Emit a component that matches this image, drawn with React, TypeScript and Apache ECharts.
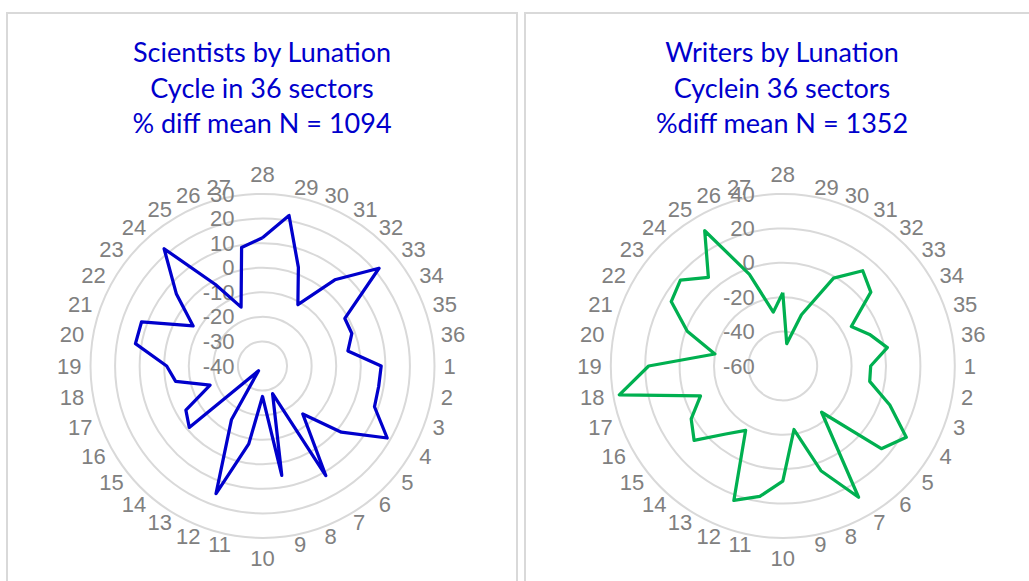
import React, { useEffect, useRef } from 'react';
import * as echarts from 'echarts';

// Sector labels (lunation cycle sectors 1..36)
const sectorLabels: string[] = [
  '1', '2', '3', '4', '5', '6', '7', '8', '9', '10', '11', '12',
  '13', '14', '15', '16', '17', '18', '19', '20', '21', '22', '23', '24',
  '25', '26', '27', '28', '29', '30', '31', '32', '33', '34', '35', '36',
];

// % diff from mean, by sector 1..36
const scientists: number[] = [
  8.3, 8, 8.5, 18.6, 1.9, -14.5, 11.5, -28, 5.2, -27.6, -7.8, 15.3,
  -14.7, -37.5, -1.1, -4, -17.3, -4.1, -1, 12.5, 12.4, -7.4, 5.8, 22.3,
  -1.7, -14.5, 9, 12.2, 22.2, 2.7, -11.2, 5.8, 21.9, -1.3, -1.3, -4.7,
];

const writers: number[] = [
  -8.9, -8.7, 6.2, 22.9, 14.8, -24.9, 28.1, 4.8, -22.5, 6.9, 17, 23.2,
  -16.8, -8.4, 7.3, 1.5, -9.1, 36.5, 18, -19.9, -0.9, 14.9, 17.7, 7.3,
  30.8, -3.3, -28.2, -17.4, -46.8, -28.3, -1, 12.3, 6.8, -14, -6.3, 1.7,
];

// Value axis ranges
const sciAxis = { min: -40, max: 30, splits: 7 };
const wriAxis = { min: -60, max: 40, splits: 5 };

const titles: string[] = [
  'Scientists by Lunation\nCycle in 36 sectors\n% diff mean N = 1094',
  'Writers by Lunation\nCyclein 36 sectors\n%diff mean N = 1352',
];

// Sector 28 sits at the top; sectors run clockwise. ECharts radar runs
// counter-clockwise, so build the radar order from the top going CCW.
const TOP_INDEX = 27; // index of sector 28
const radarOrder: number[] = sectorLabels.map((_, j) => (((TOP_INDEX - j) % 36) + 36) % 36);

const LABEL_COLOR = '#808080';
const LABEL_FONT = 'Liberation Sans, Arial, sans-serif';

function buildIndicators(min: number, max: number) {
  return radarOrder.map((k, j) => {
    const ind: any = { name: sectorLabels[k], min, max };
    if (j === 0) {
      ind.axisLabel = { show: true };
    }
    return ind;
  });
}

function buildRadar(center: [number, number], ax: { min: number; max: number; splits: number }) {
  return {
    center,
    radius: 172,
    startAngle: 90,
    shape: 'circle',
    splitNumber: ax.splits,
    indicator: buildIndicators(ax.min, ax.max),
    nameGap: 9,
    axisName: { color: LABEL_COLOR, fontSize: 22, fontFamily: LABEL_FONT },
    axisLine: { show: false },
    axisTick: { show: false },
    axisLabel: {
      show: false,
      color: LABEL_COLOR,
      fontSize: 22,
      fontFamily: LABEL_FONT,
      margin: 28,
      showMinLabel: true,
      showMaxLabel: true,
    },
    splitLine: { lineStyle: { color: '#d9d9d9', width: 2 } },
    splitArea: { show: false },
  };
}

function reorder(values: number[]) {
  return radarOrder.map((k) => values[k]);
}

export default function App() {
  const ref = useRef<HTMLDivElement>(null);

  useEffect(() => {
    if (!ref.current) return;
    const chart = echarts.init(ref.current, undefined, { renderer: 'svg' });
    const titleStyle = {
      color: '#0000CC',
      fontSize: 27,
      lineHeight: 35.5,
      fontFamily: 'Lato, sans-serif',
      fontWeight: 'normal' as const,
    };
    const option: any = {
      animation: false,
      backgroundColor: '#ffffff',
      title: [
        { text: titles[0], left: 262, top: 34, textAlign: 'center', padding: 0, textStyle: titleStyle },
        { text: titles[1], left: 782, top: 34, textAlign: 'center', padding: 0, textStyle: titleStyle },
      ],
      graphic: [
        {
          type: 'rect',
          shape: { x: 7, y: 13, width: 510, height: 600 },
          style: { fill: 'none', stroke: '#d9d9d9', lineWidth: 2 },
          silent: true,
        },
        {
          type: 'rect',
          shape: { x: 525, y: 13, width: 530, height: 600 },
          style: { fill: 'none', stroke: '#d9d9d9', lineWidth: 2 },
          silent: true,
        },
      ],
      radar: [
        buildRadar([262.5, 366], sciAxis),
        buildRadar([782.8, 366], wriAxis),
      ],
      series: [
        {
          type: 'radar',
          radarIndex: 0,
          symbol: 'none',
          lineStyle: { color: '#0000CC', width: 3.25 },
          data: [{ value: reorder(scientists), name: 'Scientists' }],
        },
        {
          type: 'radar',
          radarIndex: 1,
          symbol: 'none',
          lineStyle: { color: '#00B050', width: 3.25 },
          data: [{ value: reorder(writers), name: 'Writers' }],
        },
      ],
    };
    chart.setOption(option);
    return () => {
      chart.dispose();
    };
  }, []);

  return (
    <div
      ref={ref}
      style={{ position: 'absolute', left: 0, top: 0, width: 1029, height: 581 }}
    />
  );
}
